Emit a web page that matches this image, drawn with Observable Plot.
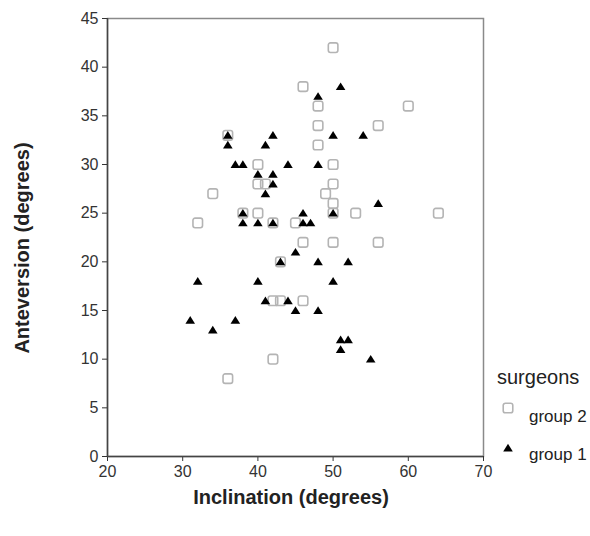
<!DOCTYPE html>
<html>
<head>
<meta charset="utf-8">
<script src="https://cdn.jsdelivr.net/npm/d3@7"></script>
<script src="https://cdn.jsdelivr.net/npm/@observablehq/plot@0.6"></script>
<style>
  body { margin: 0; background: white; }
  #wrap { position: relative; width: 590px; height: 536px; font-family: "Liberation Sans", Arial, sans-serif; }
  #legend { position: absolute; left: 0; top: 0; width: 590px; height: 536px; pointer-events: none; }
</style>
</head>
<body>
<div id="wrap"></div>
<script>
// Group 2 (open squares): inclination, anteversion
const group2Incl = [50, 46, 48, 60, 48, 56, 36, 48, 40, 50, 40, 41, 50, 34, 49, 50, 38, 40, 50, 53, 64, 32, 42, 45, 46, 50, 56, 43, 42, 43, 46, 42, 36];
const group2Ante = [42, 38, 36, 36, 34, 34, 33, 32, 30, 30, 28, 28, 28, 27, 27, 26, 25, 25, 25, 25, 25, 24, 24, 24, 22, 22, 22, 20, 16, 16, 16, 10, 8];
// Group 1 (filled triangles)
const group1Incl = [51, 48, 36, 42, 50, 54, 36, 41, 37, 38, 44, 48, 40, 42, 42, 41, 56, 38, 46, 50, 38, 40, 42, 46, 47, 45, 43, 48, 52, 32, 40, 50, 41, 44, 45, 48, 31, 37, 34, 51, 52, 51, 55];
const group1Ante = [38, 37, 33, 33, 33, 33, 32, 32, 30, 30, 30, 30, 29, 29, 28, 27, 26, 25, 25, 25, 24, 24, 24, 24, 24, 21, 20, 20, 20, 18, 18, 18, 16, 16, 15, 15, 14, 14, 13, 12, 12, 11, 10];
const xTicks = [20, 30, 40, 50, 60, 70];
const yTicks = [0, 5, 10, 15, 20, 25, 30, 35, 40, 45];
const legendTitle = "surgeons";
const legendLabels = ["group 2", "group 1"];
const xTitle = "Inclination (degrees)";
const yTitle = "Anteversion (degrees)";

const g2 = group2Incl.map((v, i) => ({incl: v, ante: group2Ante[i]}));
const g1 = group1Incl.map((v, i) => ({incl: v, ante: group1Ante[i]}));

const roundSquare = {
  draw(ctx, size) {
    const s = Math.sqrt(size) / 2, k = s * 0.45;
    ctx.moveTo(-s + k, -s);
    ctx.lineTo(s - k, -s);
    ctx.arcTo(s, -s, s, -s + k, k);
    ctx.lineTo(s, s - k);
    ctx.arcTo(s, s, s - k, s, k);
    ctx.lineTo(-s + k, s);
    ctx.arcTo(-s, s, -s, s - k, k);
    ctx.lineTo(-s, -s + k);
    ctx.arcTo(-s, -s, -s + k, -s, k);
    ctx.closePath();
  }
};
const triangle = {
  draw(ctx, size) {
    const w = Math.sqrt(size) / 2; // half width
    const h = w * 1.6;
    ctx.moveTo(0, -h * 0.55);
    ctx.lineTo(w, h * 0.45);
    ctx.lineTo(-w, h * 0.45);
    ctx.closePath();
  }
};

const chart = Plot.plot({
  width: 590,
  height: 536,
  marginLeft: 107,
  marginRight: 107,
  marginTop: 18,
  marginBottom: 80,
  style: {fontFamily: "'Liberation Sans', Arial, sans-serif", fontSize: "16px", color: "#333", background: "white"},
  x: {domain: [20, 70]},
  y: {domain: [0, 45]},
  marks: [
    Plot.frame({stroke: "#8a8a8a", strokeWidth: 1.5}),
    Plot.axisX({ticks: xTicks, tickSize: 5, tickPadding: 4, label: null, fontSize: 16}),
    Plot.axisY({ticks: yTicks, tickSize: 5, tickPadding: 4, label: null, fontSize: 16}),
    Plot.ruleX([20], {stroke: "#444", strokeWidth: 1.5}),
    Plot.ruleY([0], {stroke: "#444", strokeWidth: 1.5}),
    Plot.dot(g2, {x: "incl", y: "ante", symbol: roundSquare, r: 5.4, stroke: "#b4b4b4", strokeWidth: 1.6, fill: "none"}),
    Plot.dot(g1, {x: "incl", y: "ante", symbol: triangle, r: 5.4, fill: "black", stroke: "none"})
  ]
});

const svg = d3.select(chart);
svg.append("text")
  .attr("x", 291).attr("y", 504)
  .attr("text-anchor", "middle")
  .attr("font-size", 20).attr("font-weight", "bold").attr("fill", "#222")
  .text(xTitle);
svg.append("text")
  .attr("transform", "translate(29,248) rotate(-90)")
  .attr("text-anchor", "middle")
  .attr("font-size", 20).attr("font-weight", "bold").attr("fill", "#222")
  .text(yTitle);

const wrap = document.getElementById("wrap");
wrap.appendChild(chart);

// Legend (HTML overlay with small svgs)
const leg = d3.select(wrap).append("svg").attr("id", "legend").attr("width", 590).attr("height", 536);
leg.append("text").attr("x", 497).attr("y", 384).attr("font-size", 20).attr("fill", "#222")
  .attr("font-family", "'Liberation Sans', Arial, sans-serif").text(legendTitle);
const sqPath = d3.path(); roundSquare.draw(sqPath, Math.PI * 5.4 * 5.4);
const trPath = d3.path(); triangle.draw(trPath, Math.PI * 5.4 * 5.4);
leg.append("path").attr("d", sqPath.toString()).attr("transform", "translate(508,408)")
  .attr("fill", "none").attr("stroke", "#b4b4b4").attr("stroke-width", 1.6);
leg.append("path").attr("d", trPath.toString()).attr("transform", "translate(508,448)").attr("fill", "black");
leg.append("text").attr("x", 529).attr("y", 422).attr("font-size", 17).attr("fill", "#222")
  .attr("font-family", "'Liberation Sans', Arial, sans-serif").text(legendLabels[0]);
leg.append("text").attr("x", 529).attr("y", 460).attr("font-size", 17).attr("fill", "#222")
  .attr("font-family", "'Liberation Sans', Arial, sans-serif").text(legendLabels[1]);
</script>
</body>
</html>
